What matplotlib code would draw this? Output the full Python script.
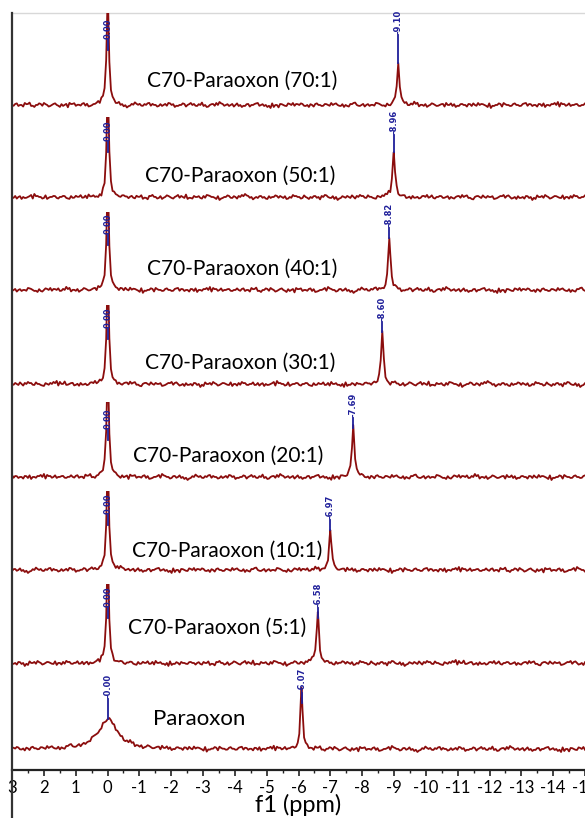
#!/usr/bin/python
"""
31P NMR stack: C70-Paraoxon ratios vs free Paraoxon
"""

import numpy as np
import matplotlib
matplotlib.use("Agg")
import matplotlib.pyplot as plt
from matplotlib.lines import Line2D

plt.rcParams['font.family'] = ['Lato', 'DejaVu Sans']

################################################
# Data
################################################

panelNames = ["C70-Paraoxon (70:1)", "C70-Paraoxon (50:1)", "C70-Paraoxon (40:1)",
              "C70-Paraoxon (30:1)", "C70-Paraoxon (20:1)", "C70-Paraoxon (10:1)",
              "C70-Paraoxon (5:1)", "Paraoxon"]

# reference peak (0 ppm) and shifted peak of each trace
refShift = [0.0, 0.0, 0.0, 0.0, 0.0, 0.0, 0.0, 0.0]
refText = ["0.00", "0.00", "0.00", "0.00", "0.00", "0.00", "0.00", "-0.00"]
refHeight = [115, 115, 115, 115, 115, 115, 115, 30]
refWidth = [0.08, 0.08, 0.08, 0.08, 0.08, 0.08, 0.08, 0.7]
refLabelAt = [65, 55, 55, 55, 47, 55, 55, 50]

peakShift = [-9.10, -8.96, -8.82, -8.60, -7.69, -6.97, -6.58, -6.07]
peakText = ["-9.10", "-8.96", "-8.82", "-8.60", "-7.69", "-6.97", "-6.58", "-6.07"]
peakHeight = [42, 45, 52, 53, 52, 40, 51, 61]
peakWidth = [0.09, 0.09, 0.09, 0.09, 0.09, 0.09, 0.09, 0.08]
peakLabelAt = [70, 62, 62, 62, 59, 50, 55, 56]

# baseline noise (px), even samples every 0.1 ppm from 3 ppm
noise = [
    0, 1, -1, 0, 2, 1, -1, -2, 0, 1,
    2, 0, -1, 1, 0, -2, -1, 1, 2, 1,
    -1, 0, 1, -1, -2, -1, 0, 2, 3, 1,
    0, -1, 1, 0, -1, -2, -3, -1, 0, 1,
    1, -1, 0, 2, 1, 0, -1, -1, 1, 2,
    0, -2, -1, 0, 1, 0, 2, 1, -1, 0,
    -1, -2, 0, 1, 2, 3, 1, 0, -1, 1,
    0, -1, -2, -1, 1, 0, 1, 2, 0, -1,
    -2, -3, -2, 0, 1, 0, -1, 1, 2, 1,
    0, 1, -1, -2, 0, 1, 0, -1, 1, 0,
    2, 1, 0, -1, -2, -1, 1, 2, 0, -1,
    1, 0, -1, 0, 2, 1, -1, -2, -1, 0,
    1, 2, 1, 0, -1, 1, 3, 2, 0, -1,
    -2, 0, 1, -1, 0, 1, 2, 0, -1, -2,
    -1, 1, 0, 1, -1, 0, 2, 1, 0, -2,
    -3, -1, 0, 1, 2, 0, -1, 1, 0, -1,
    1, 2, 1, -1, 0, 1, -1, -2, 0, 1,
    2, 3, 2, 1, 0, -1, 0, 1, -1, 0,
]
# odd samples, in between
jitter = [
    -1, 2, 0, -2, 1, 3, -1, 0, 2, -1,
    1, -2, 0, 2, -1, 1, 0, -3, 1, 2,
    0, -1, 2, 1, -2, 0, 1, -1, 2, 0,
    -2, 1, -1, 2, 0, -1, -2, 1, 3, 0,
    -1, 1, 2, -1, 0, -2, 1, 0, -1, 2,
    1, -1, 0, 2, -2, 1, 0, -1, 1, 3,
    0, -2, 1, -1, 0, 2, -1, 1, 0, -2,
    2, 0, -1, 1, -2, 0, 2, -1, 1, 0,
    -1, 2, 0, -3, 1, -1, 2, 0, -1, 1,
    2, -1, 0, 1, -2, 2, 0, -1, 1, -1,
    0, 2, -1, 1, 0, -2, 1, 3, -1, 0,
    -2, 1, 0, -1, 2, 0, -1, 1, -2, 2,
    0, -1, 1, 2, -1, 0, 1, -2, 0, 1,
    -1, 2, 0, -1, 1, -2, 0, 2, 1, -1,
    1, 0, -2, 1, 2, -1, 0, 1, -1, 2,
    -1, 0, 2, -2, 1, 0, -1, 2, 0, -1,
    2, -1, 1, 0, -2, 1, 2, 0, -1, 1,
    0, -2, 1, -1, 2, 0, 1, -1, 0, 2,
]
noiseRoll = [0, 74, 142, 226, 38, 298, 116, 182]
noiseSign = [1, -1, 1, -1, 1, 1, -1, 1]

xTicks = list(range(3, -16, -1))

################################################
# Layout (pixels of the 585x818 picture)
################################################

W, H = 585.0, 818.0
left_px, right_px = 12, 585
axisTop_px, axisBottom_px = 13, 770
baseline_px = [105, 197, 290, 384, 477, 570, 663, 749]
clipTop_px = [13, 117, 212, 305, 402, 491, 584, 669]
padBelow = 14

panelTextX = [-1.22, -1.16, -1.22, -1.16, -0.78, -0.75, -0.63, -1.41]
panelTextY = [18, 15, 15, 15, 15, 13, 29, 24]
panelTextSize = [15, 15, 15, 15, 15, 15, 15, 16]

traceColor = "#8b0d0d"
labelColor = "#1f1f9a"
xmin, xmax = 3.0, -14.95


def lorentz(x, x0, h, w):
    return h / (1.0 + ((x - x0) / (w / 2.0)) ** 2)


fig = plt.figure(figsize=(W / 100, H / 100), dpi=100)

# outer frame with the ppm axis
ax = fig.add_axes([left_px / W, (H - axisBottom_px) / H, (right_px - left_px) / W,
                   (axisBottom_px - axisTop_px) / H])
ax.set_xlim(xmin, xmax)
ax.set_ylim(0, 1)
ax.set_yticks([])
ax.spines['right'].set_visible(False)
ax.spines['left'].set_visible(False)
ax.spines['top'].set_color("#d8d8d8")
ax.spines['top'].set_linewidth(1.0)
ax.spines['bottom'].set_color("#222222")
ax.spines['bottom'].set_linewidth(1.6)
ax.set_xticks(xTicks)
ax.set_xticklabels([str(t) for t in xTicks], fontsize=12)
ax.set_xticks(np.arange(2.5, -15, -1.0), minor=True)
ax.tick_params(axis='x', which='major', direction='out', length=4, width=1.2, pad=3, colors="#222222")
ax.tick_params(axis='x', which='minor', direction='out', length=2, width=1.0, colors="#222222")
for lab in ax.get_xticklabels():
    lab.set_color("black")
ax.set_xlabel("f1 (ppm)", fontsize=17, labelpad=-1)

# left vertical line running the whole height
fig.add_artist(Line2D([left_px / W, left_px / W], [0, (H - axisTop_px) / H],
                      color="#333333", linewidth=1.6, transform=fig.transFigure))

# fine grid, 0.05 ppm: noise and jitter interleaved
xGrid = np.round(np.linspace(3.0, -14.95, 360), 3)
baseNoise = np.empty(360)
baseNoise[0::2] = noise
baseNoise[1::2] = np.array(jitter) * 0.8

for i in range(8):
    top = clipTop_px[i]
    bot = baseline_px[i] + padBelow
    a = fig.add_axes([left_px / W, (H - bot) / H, (right_px - left_px) / W, (bot - top) / H])
    a.set_xlim(xmin, xmax)
    a.set_ylim(-padBelow, baseline_px[i] - top)
    a.axis("off")
    a.patch.set_alpha(0)

    base = np.roll(baseNoise, noiseRoll[i]) * noiseSign[i]
    # drop grid points that sit on a peak centre, add centre points
    keep = (np.abs(xGrid - refShift[i]) > 0.01) & (np.abs(xGrid - peakShift[i]) > 0.01)
    extraX = np.array([refShift[i], peakShift[i]])
    x = np.concatenate([xGrid[keep], extraX])
    y = np.concatenate([base[keep], np.zeros(len(extraX))])
    order = np.argsort(-x)
    x, y = x[order], y[order]
    y = y + lorentz(x, refShift[i], refHeight[i], refWidth[i]) \
          + lorentz(x, peakShift[i], peakHeight[i], peakWidth[i])
    a.plot(x, y, color=traceColor, linewidth=1.3)

    # peak labels
    for pos, txt, h, lab in [(refShift[i], refText[i], refHeight[i], refLabelAt[i]),
                             (peakShift[i], peakText[i], peakHeight[i], peakLabelAt[i])]:
        low = min(h, lab - 10)
        a.plot([pos, pos], [low, lab], color=labelColor, linewidth=1.3, clip_on=False)
        a.text(pos, lab + 1, txt, rotation=90, ha="center", va="bottom", fontsize=6,
               fontweight="bold", color=labelColor, family="DejaVu Sans")

    a.text(panelTextX[i], panelTextY[i], panelNames[i], ha="left", va="baseline",
           fontsize=panelTextSize[i], color="black")

plt.savefig("out.png", dpi=100)
